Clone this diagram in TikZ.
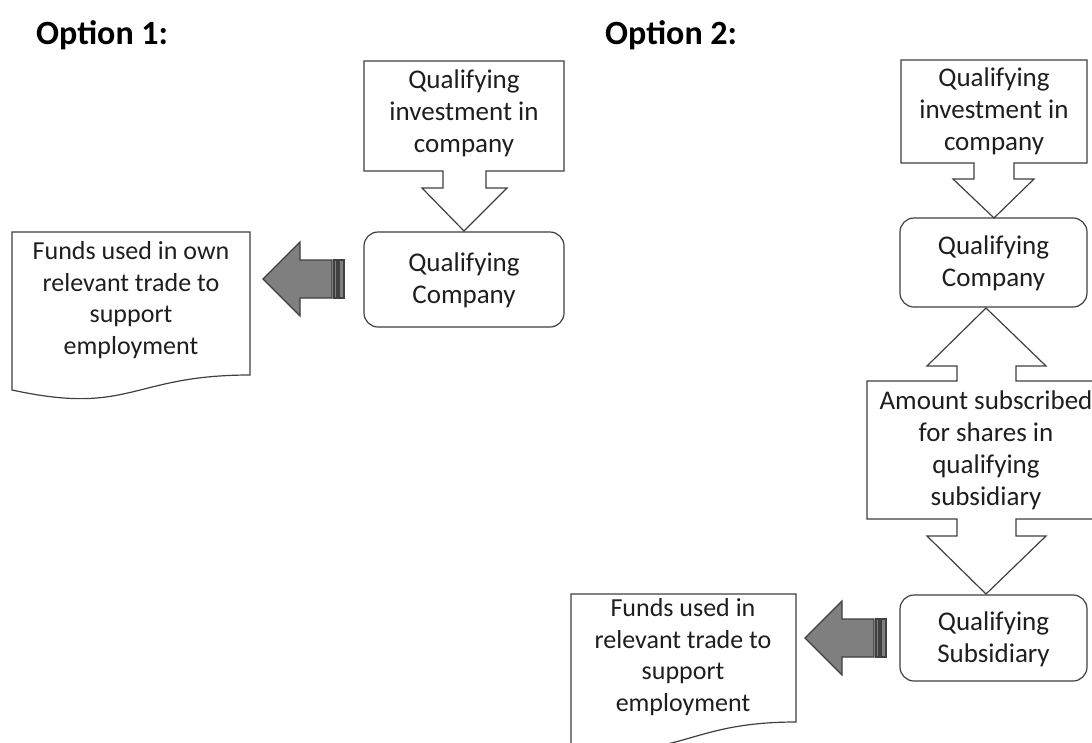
\documentclass[tikz,border=0pt]{standalone}
\usepackage{fontspec}
\setmainfont{Carlito}
\definecolor{edge}{HTML}{404040}
\definecolor{ink}{HTML}{1E1E1E}
\definecolor{arrowfill}{HTML}{7F7F7F}
\tikzset{
  shapeline/.style={draw=edge, line width=1.2pt, fill=white, line join=miter},
  roundbox/.style={shapeline, rounded corners=14pt, minimum width=#1, inner sep=0pt},
  label/.style={text=ink, align=center, font=\fontsize{27}{32}\selectfont, inner sep=0pt},
  doclabel/.style={text=ink, align=center, font=\fontsize{26}{31.5}\selectfont, inner sep=0pt},
  title/.style={text=black, anchor=base west, font=\fontsize{34}{40}\selectfont\bfseries, inner sep=0pt},
  arrowbody/.style={draw=edge, line width=1.2pt, fill=arrowfill, line join=miter},
  stripedarrow/.pic={
    \draw[arrowbody] (0,0) -- (37,-37) -- (37,-19) -- (69,-19) -- (69,19) -- (37,19) -- (37,37) -- cycle;
    \draw[arrowbody] (71,-19) rectangle (74,19);
    \draw[arrowbody] (76,-19) rectangle (81,19);
  }
}
\begin{document}
\begin{tikzpicture}[x=1pt,y=-1pt]
\useasboundingbox (0,0) rectangle (1092,742);
\clip (0,0) rectangle (1092,742);
\fill[white] (0,0) rectangle (1092,742);

% titles
\node[title] (t1) at (36,44) {Option 1:};
\node[title] (t2) at (605,44) {Option 2:};

% ---------- Option 1 ----------
\node[roundbox=200pt, minimum height=95pt] (qc1) at (464,279.5) {};
\node[label] (qc1text) at (464,280) {Qualifying\\Company};

\draw[shapeline] (364,61) -- (564,61) -- (564,171) -- (486,171) -- (486,188) -- (507,188)
  -- (464,231) -- (422,188) -- (443,188) -- (443,171) -- (364,171) -- cycle;
\node[label] (inv1) at (464,113) {Qualifying\\investment in\\company};

\draw[shapeline] (12,232) -- (250,232) -- (250,375)
  .. controls (131,375) and (131,416) .. (12,390) -- cycle;
\node[doclabel] (fund1) at (131,300) {Funds used in own\\relevant trade to\\support\\employment};

\pic (arr1) at (263,279) {stripedarrow};

% ---------- Option 2 ----------
\node[roundbox=187pt, minimum height=89pt] (qc2) at (993.5,262.5) {};
\node[label] (qc2text) at (993.5,263) {Qualifying\\Company};

\node[roundbox=187pt, minimum height=86pt] (qs2) at (993.5,638) {};
\node[label] (qs2text) at (993.5,639) {Qualifying\\Subsidiary};

\draw[shapeline] (901,60) -- (1087,60) -- (1087,163) -- (1014,163) -- (1014,179) -- (1034,179)
  -- (994,218) -- (953,179) -- (974,179) -- (974,163) -- (901,163) -- cycle;
\node[label] (inv2) at (994,111) {Qualifying\\investment in\\company};

\draw[shapeline] (867,381) -- (957,381) -- (957,366) -- (927,366) -- (986,308) -- (1046,366)
  -- (1016,366) -- (1016,381) -- (1105,381) -- (1105,519) -- (1016,519) -- (1016,536)
  -- (1046,536) -- (986,594) -- (927,536) -- (957,536) -- (957,519) -- (867,519) -- cycle;
\node[label] (sub2) at (986,450) {Amount subscribed\\for shares in\\qualifying\\subsidiary};

\draw[shapeline] (571,594) -- (796,594) -- (796,722)
  .. controls (683,722) and (683,762) .. (571,745) -- cycle;
\node[doclabel] (fund2) at (683,657) {Funds used in\\relevant trade to\\support\\employment};

\pic (arr2) at (805,638) {stripedarrow};
\end{tikzpicture}
\end{document}
